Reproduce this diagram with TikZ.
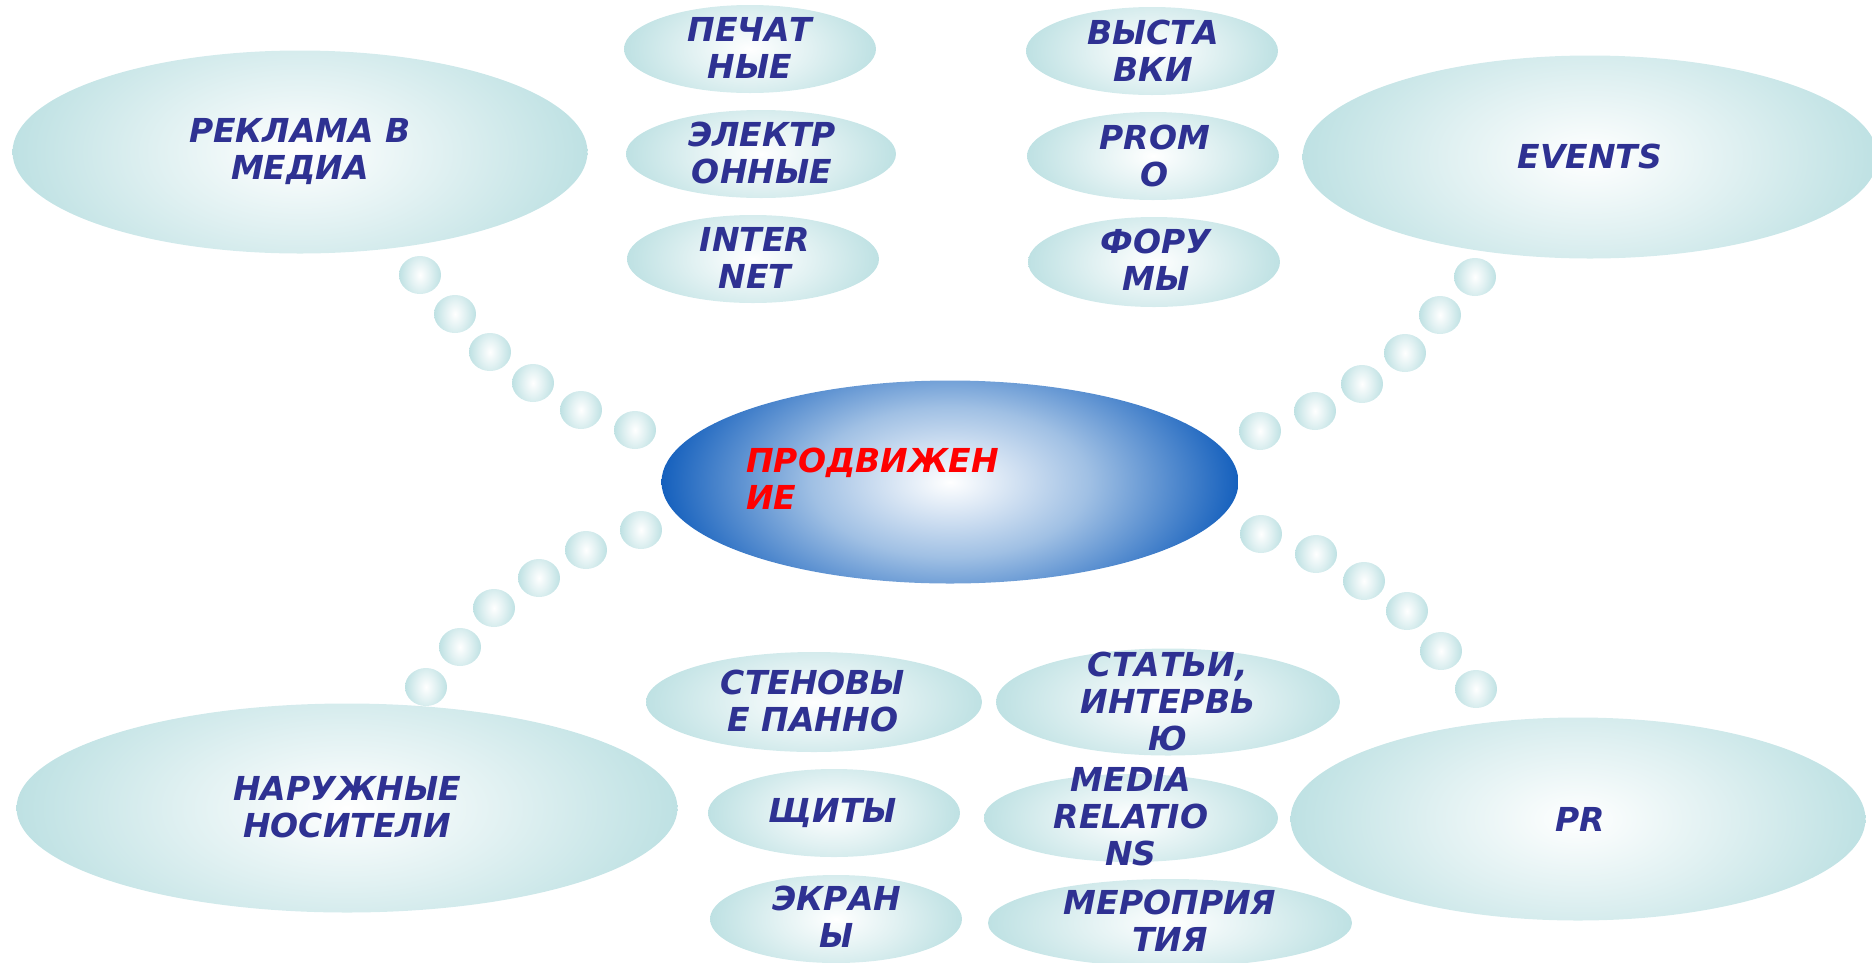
\documentclass[tikz,border=0pt]{standalone}
\usepackage{fontspec}
\usetikzlibrary{shapes.geometric}
\newfontfamily\lblfont{DejaVu Sans}
\definecolor{bubedge}{RGB}{190,225,227}
\definecolor{bubmid}{RGB}{225,241,242}
\definecolor{cblue}{RGB}{21,96,189}
\definecolor{cmid}{RGB}{160,192,228}
\definecolor{tblue}{RGB}{46,49,146}
\definecolor{tred}{RGB}{255,0,0}
\pgfdeclareradialshading{bubshade}{\pgfpoint{0bp}{0bp}}{color(0bp)=(white); color(12bp)=(bubmid); color(25bp)=(bubedge); color(50bp)=(bubedge)}
\pgfdeclareradialshading{censhade}{\pgfpoint{0bp}{0bp}}{color(0bp)=(white); color(12bp)=(cmid); color(25bp)=(cblue); color(50bp)=(cblue)}
\def\bubextra{0pt}
\def\bubshading{bubshade}
\tikzset{
  extra/.store in=\bubextra,
  shadename/.store in=\bubshading,
  bub/.style={ellipse, draw=none, inner sep=0pt,
    path picture={\shade[shading=\bubshading] ([yshift=-\bubextra]path picture bounding box.south west) rectangle ([yshift=\bubextra]path picture bounding box.north east);}},
  dot/.style={bub, extra=10pt, minimum width=42pt, minimum height=38pt},
  small/.style={bub, extra=24pt, minimum width=252pt, minimum height=88pt},
  big/.style={bub, extra=55pt, minimum width=575pt, minimum height=203pt},
  lbl/.style={font=\lblfont\bfseries\itshape\fontsize{33}{37}\selectfont, text=tblue, align=center, inner sep=0pt},
}
\begin{document}
\begin{tikzpicture}[x=1pt, y=-1pt]
\useasboundingbox (0,0) rectangle (1872,962);
% chains of bubbles
\foreach \x/\y [count=\i] in {420/275,455/314,490/352,533/383,581/410,635/430}
  \node[dot] (ul\i) at (\x,\y) {};
\foreach \x/\y [count=\i] in {641/530,586/550,539/578,494/608,460/647,426/687}
  \node[dot] (ll\i) at (\x,\y) {};
\foreach \x/\y [count=\i] in {1475/277,1440/315,1405/353,1362/384,1315/411,1260/431}
  \node[dot] (ur\i) at (\x,\y) {};
\foreach \x/\y [count=\i] in {1261/534,1316/554,1364/581,1407/611,1441/651,1476/689}
  \node[dot] (lr\i) at (\x,\y) {};
% central
\node[big, shadename=censhade, minimum width=577pt] (center) at (950,482) {};
\node[lbl, text=tred, align=left, anchor=west] (centertext) at (746,479) {ПРОДВИЖЕН\\ИЕ};
% big ellipses
\node[big] (media) at (300,152) {};
\node[lbl] (mediat) at (300,152) {РЕКЛАМА В\\МЕДИА};
\node[big] (events) at (1590,157) {};
\node[lbl] (eventst) at (1590,156) {EVENTS};
\node[big, minimum width=661pt, minimum height=209pt] (naruzh) at (347,808) {};
\node[lbl] (naruzht) at (347,807) {НАРУЖНЫЕ\\НОСИТЕЛИ};
\node[big] (pr) at (1578,819) {};
\node[lbl] (prt) at (1580,819) {PR};
% small ellipses
\node[small] (pech) at (750,49) {};
\node[lbl] (pecht) at (750,48) {ПЕЧАТ\\НЫЕ};
\node[small, minimum width=270pt] (elek) at (761,154) {};
\node[lbl] (elekt) at (762,153) {ЭЛЕКТР\\ОННЫЕ};
\node[small] (inet) at (753,259) {};
\node[lbl] (inett) at (755,258) {INTER\\NET};
\node[small] (vyst) at (1152,51) {};
\node[lbl] (vystt) at (1153,51) {ВЫСТА\\ВКИ};
\node[small] (promo) at (1153,156) {};
\node[lbl] (promot) at (1155,156) {PROM\\O};
\node[small, minimum height=90pt] (forum) at (1154,262) {};
\node[lbl] (forumt) at (1156,260) {ФОРУ\\МЫ};
\node[small, minimum width=336pt, minimum height=100pt] (sten) at (814,702) {};
\node[lbl] (stent) at (813,701) {СТЕНОВЫ\\Е ПАННО};
\node[small] (shchit) at (834,813) {};
\node[lbl] (shchitt) at (833,813) {ЩИТЫ};
\node[small] (ekran) at (836,919) {};
\node[lbl] (ekrant) at (837,917) {ЭКРАН\\Ы};
\node[small, minimum width=344pt, minimum height=107pt] (stat) at (1168,702) {};
\node[lbl] (statt) at (1168,701) {СТАТЬИ,\\ИНТЕРВЬ\\Ю};
\node[small, minimum width=294pt] (mrel) at (1131,818) {};
\node[lbl] (mrelt) at (1131,817) {MEDIA\\RELATIO\\NS};
\node[small, minimum width=364pt] (merop) at (1170,923) {};
\node[lbl] (meropt) at (1170,921) {МЕРОПРИЯ\\ТИЯ};
\end{tikzpicture}
\end{document}
